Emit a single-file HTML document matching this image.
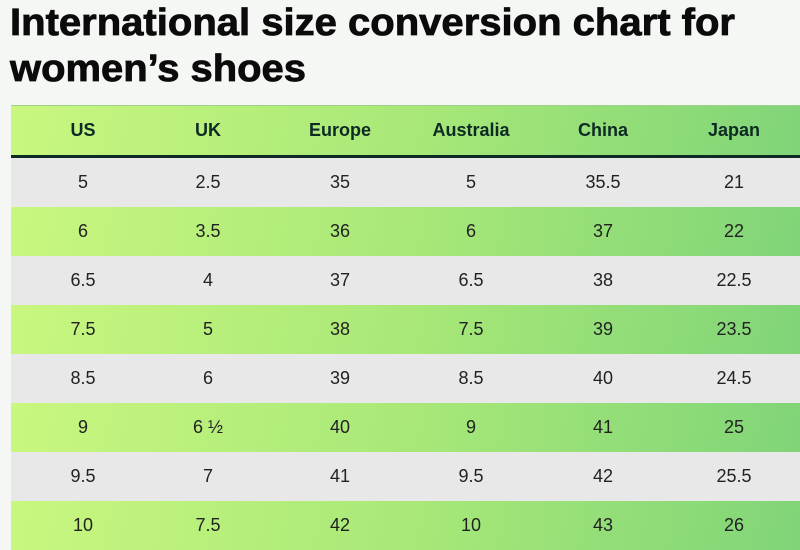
<!DOCTYPE html>
<html><head><meta charset="utf-8"><style>
body{margin:0;width:800px;height:545px;overflow:hidden;background:#f4f7f3;font-family:"Liberation Sans",sans-serif;position:relative}
.tbl{position:absolute;left:11px;top:105px;width:800px}
.row{position:relative;height:49px}
.g{background:linear-gradient(100deg,#c9f77f 0%,#a8e878 50%,#7fd478 100%)}
.w{background:#e8e8e8}
.hdr{height:49px;border-bottom:3px solid #0d2a24;border-top:1px solid #9fcf8a}
.c{position:absolute;top:0;height:100%;width:120px;margin-left:-60px;display:flex;align-items:center;justify-content:center;font-size:18px;color:#222}
.hdr .c{font-weight:bold;color:#0d2a24}
</style></head><body>
<svg width="800" height="100" style="position:absolute;left:0;top:0">
<text x="10" y="35" font-family="Liberation Sans" font-weight="bold" font-size="38" fill="#0b0b0b" stroke="#0b0b0b" stroke-width="0.8" textLength="725" lengthAdjust="spacingAndGlyphs">International size conversion chart for</text>
<text x="10" y="81" font-family="Liberation Sans" font-weight="bold" font-size="38" fill="#0b0b0b" stroke="#0b0b0b" stroke-width="0.8" textLength="296" lengthAdjust="spacingAndGlyphs">women’s shoes</text>
</svg>
<div class="tbl" id="tbl"></div>
<script>
const headers=["US","UK","Europe","Australia","China","Japan"];
const rows=[["5","2.5","35","5","35.5","21"],["6","3.5","36","6","37","22"],["6.5","4","37","6.5","38","22.5"],["7.5","5","38","7.5","39","23.5"],["8.5","6","39","8.5","40","24.5"],["9","6 ½","40","9","41","25"],["9.5","7","41","9.5","42","25.5"],["10","7.5","42","10","43","26"]];
const centers=[72,197,329,460,592,723];
const t=document.getElementById('tbl');
function mk(vals,cls,name){const r=document.createElement('div');r.className='row '+cls;


vals.forEach((v,i)=>{const c=document.createElement('div');c.className='c';c.style.left=centers[i]+'px';c.textContent=v;


r.appendChild(c);});t.appendChild(r);}
mk(headers,'g hdr','header-row');
rows.forEach((r,i)=>mk(r,i%2?'g':'w','row-us-'+r[0].replace('.','-')));
</script>
</body></html>
